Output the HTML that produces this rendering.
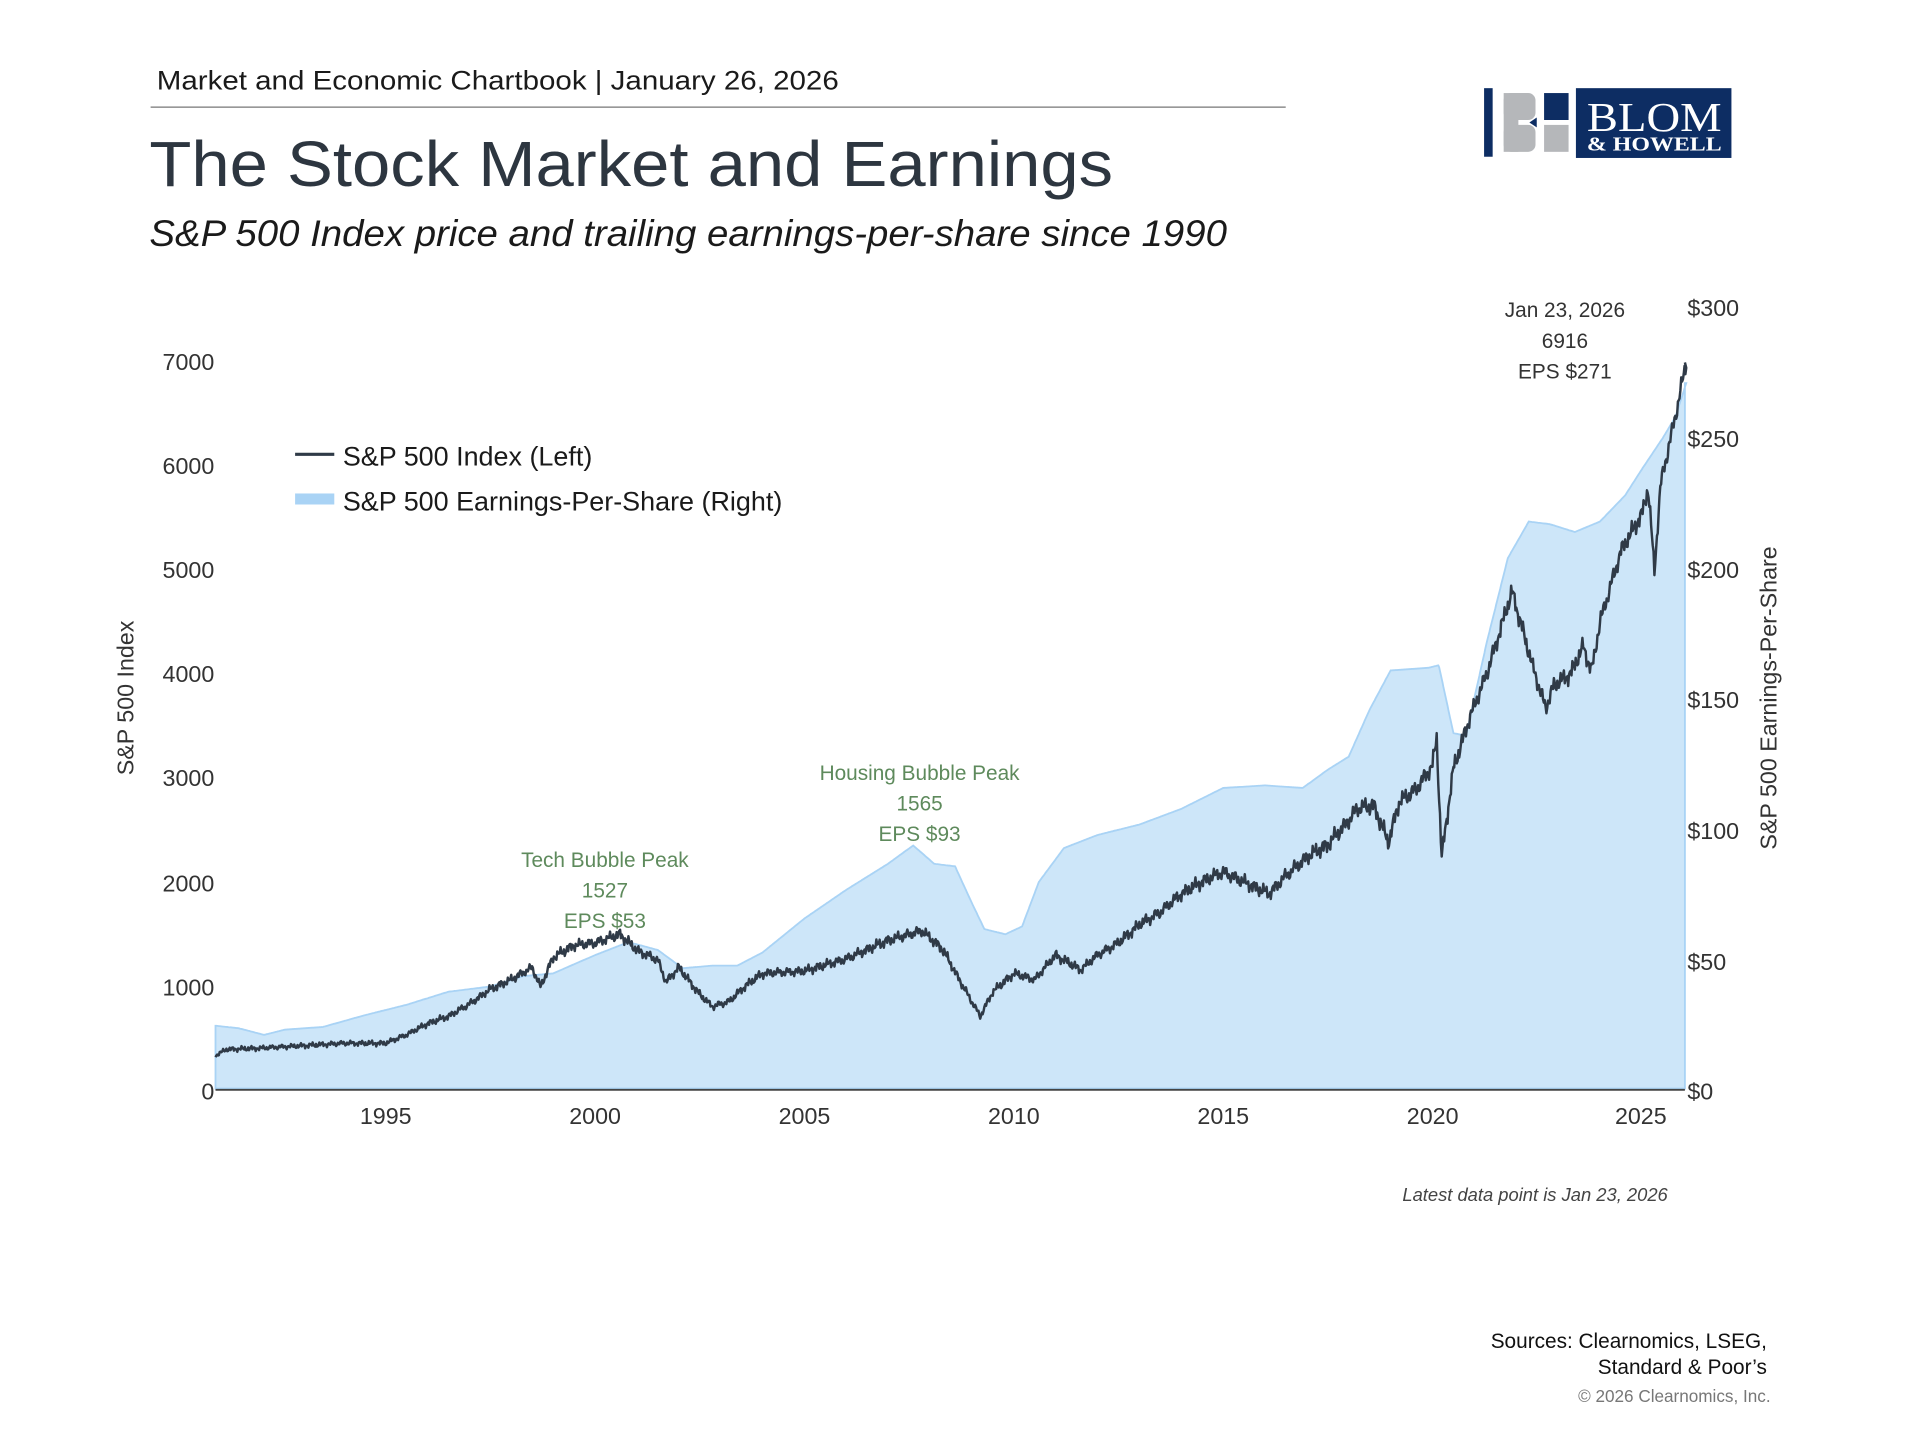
<!DOCTYPE html>
<html><head><meta charset="utf-8"><style>
html,body{margin:0;padding:0;background:#fff;}
svg{display:block;font-family:"Liberation Sans",sans-serif;}
</style></head><body>
<svg id="s" width="1920" height="1440" viewBox="0 0 1568 1176" xmlns="http://www.w3.org/2000/svg">
<rect width="1568" height="1176" fill="#fff"/>
<text x="128" y="73" font-size="22" fill="#1a1a1a" textLength="557" lengthAdjust="spacingAndGlyphs">Market and Economic Chartbook | January 26, 2026</text>
<line x1="123" y1="87.5" x2="1050" y2="87.5" stroke="#777" stroke-width="1"/>
<text x="122" y="152" font-size="52" fill="#2d3640" textLength="787" lengthAdjust="spacingAndGlyphs">The Stock Market and Earnings</text>
<text x="122" y="201" font-size="30" font-style="italic" fill="#1a1a1a" textLength="880" lengthAdjust="spacingAndGlyphs">S&amp;P 500 Index price and trailing earnings-per-share since 1990</text>
<g>
<rect x="1212" y="72" width="7" height="56" fill="#0d2d63"/>
<rect x="1228" y="76" width="26" height="22" rx="6" fill="#b5b7ba"/>
<rect x="1228" y="102" width="26" height="22" rx="6" fill="#b5b7ba"/>
<rect x="1228" y="76" width="12" height="48" fill="#b5b7ba"/>
<polygon points="1255,96 1249,100 1255,104" fill="#0d2d63"/>
<rect x="1261" y="76" width="20" height="22" fill="#0d2d63"/>
<rect x="1261" y="102" width="20" height="22" fill="#b5b7ba"/>
<rect x="1287" y="72" width="127" height="57" fill="#0d2d63"/>
<text x="1296" y="107" font-family="Liberation Serif,serif" font-size="34" fill="#fff" textLength="110" lengthAdjust="spacingAndGlyphs">BLOM</text>
<text x="1296" y="123" font-family="Liberation Serif,serif" font-size="16" font-weight="bold" fill="#fff" textLength="110" lengthAdjust="spacingAndGlyphs">&amp; HOWELL</text>
</g>
<g id="chart"></g>
<g font-size="19" fill="#333" text-anchor="end">
<text x="175" y="898">0</text><text x="175" y="813">1000</text><text x="175" y="728">2000</text>
<text x="175" y="642">3000</text><text x="175" y="557">4000</text><text x="175" y="472">5000</text>
<text x="175" y="387">6000</text><text x="175" y="302">7000</text>
</g>
<g font-size="19" fill="#333">
<text x="1378" y="898">$0</text><text x="1378" y="792">$50</text><text x="1378" y="685">$100</text>
<text x="1378" y="578">$150</text><text x="1378" y="472">$200</text><text x="1378" y="365">$250</text>
<text x="1378" y="258">$300</text>
</g>
<g font-size="19" fill="#333" text-anchor="middle">
<text x="315" y="918">1995</text><text x="486" y="918">2000</text><text x="657" y="918">2005</text>
<text x="828" y="918">2010</text><text x="999" y="918">2015</text><text x="1170" y="918">2020</text>
<text x="1340" y="918">2025</text>
</g>
<text transform="translate(109,570) rotate(-90)" font-size="19" fill="#333" text-anchor="middle">S&amp;P 500 Index</text>
<text transform="translate(1451,570) rotate(-90)" font-size="19" fill="#333" text-anchor="middle">S&amp;P 500 Earnings-Per-Share</text>
<line x1="241" y1="371" x2="273" y2="371" stroke="#2f3a47" stroke-width="2.5"/>
<text x="280" y="380" font-size="22" fill="#1a1a1a">S&amp;P 500 Index (Left)</text>
<rect x="241" y="403" width="32" height="9" fill="#a9d3f5"/>
<text x="280" y="417" font-size="22" fill="#1a1a1a">S&amp;P 500 Earnings-Per-Share (Right)</text>
<g font-size="17" fill="#5e8a5c" text-anchor="middle">
<text x="494" y="708">Tech Bubble Peak</text><text x="494" y="733">1527</text><text x="494" y="758">EPS $53</text>
<text x="751" y="637">Housing Bubble Peak</text><text x="751" y="662">1565</text><text x="751" y="687">EPS $93</text>
</g>
<g font-size="17" fill="#333" text-anchor="middle">
<text x="1278" y="259">Jan 23, 2026</text><text x="1278" y="284">6916</text><text x="1278" y="309">EPS $271</text>
</g>
<text x="1362" y="981" font-size="15" font-style="italic" fill="#444" text-anchor="end">Latest data point is Jan 23, 2026</text>
<g text-anchor="end">
<text x="1443" y="1101" font-size="17" fill="#111">Sources: Clearnomics, LSEG,</text>
<text x="1443" y="1122" font-size="17" fill="#111">Standard &amp; Poor’s</text>
<text x="1446" y="1145" font-size="14" fill="#777">© 2026 Clearnomics, Inc.</text>
</g>
</svg>
<script>
(function(){
function X(yr){return 176+(yr-1990.94)*34.2;}
function YE(v){return 891-v/300*640;}
var eps=[[1990.94,25],[1991.5,24],[1992.1,21.5],[1992.6,23.5],[1993.5,24.5],[1994.5,29],[1995.5,33],[1996.5,38],[1997.5,40],[1998.3,44],[1999,45],[2000,52],[2000.8,57],[2001.5,54],[2002.1,47],[2002.8,48],[2003.4,48],[2004,53],[2005,66],[2006,77],[2007,87],[2007.6,94],[2008.1,87],[2008.6,86],[2009,72],[2009.3,62],[2009.8,60],[2010.2,63],[2010.6,80],[2011.2,93],[2012,98],[2013,102],[2014,108],[2015,116],[2016,117],[2016.9,116],[2017.5,123],[2018,128],[2018.5,146],[2019,161],[2019.9,162],[2020.15,163],[2020.5,137],[2020.8,136],[2021.3,172],[2021.8,204],[2022.3,218],[2022.8,217],[2023.4,214],[2024,218],[2024.6,228],[2025,238],[2025.5,250],[2025.8,258],[2026.06,271]];
var px=[[1990.94,862],[1991.2,857],[1992,856],[1993,854],[1994,852],[1995,852],[1995.5,845],[1996,836],[1996.5,830],[1997,820],[1997.5,808],[1998,800],[1998.5,790],[1998.7,806],[1999,782],[1999.5,772],[2000,770],[2000.6,763],[2001,776],[2001.5,784],[2001.7,802],[2002,790],[2002.5,812],[2002.8,822],[2003.2,818],[2003.6,805],[2004,795],[2005,793],[2006,783],[2007,768],[2007.8,760],[2008.3,775],[2008.7,800],[2009,818],[2009.2,830],[2009.5,810],[2010,795],[2010.5,800],[2011,780],[2011.6,792],[2012,780],[2012.5,770],[2013,755],[2013.5,745],[2014,730],[2014.5,720],[2015,712],[2015.6,722],[2016.1,730],[2016.5,715],[2017,700],[2017.5,690],[2018,670],[2018.2,660],[2018.6,658],[2018.95,688],[2019.2,655],[2019.6,645],[2020,625],[2020.1,603],[2020.22,700],[2020.5,628],[2020.9,585],[2021.3,550],[2021.9,483],[2022.4,545],[2022.7,578],[2022.9,560],[2023.3,550],[2023.6,528],[2023.8,548],[2024,508],[2024.5,450],[2025,420],[2025.15,398],[2025.3,466],[2025.45,395],[2025.8,340],[2026.06,296]];
function interp(arr,t){for(var i=1;i<arr.length;i++){if(t<=arr[i][0]){var a=arr[i-1],b=arr[i];var f=(t-a[0])/(b[0]-a[0]);return a[1]+f*(b[1]-a[1]);}}return arr[arr.length-1][1];}
var d="M176,889",l="";
for(var t=1990.94;t<=2026.06;t+=0.02){d+=" L"+X(t).toFixed(1)+","+YE(interp(eps,t)).toFixed(1);}
d+=" L1376,"+YE(271).toFixed(1)+" L1376,889 Z";
var i=0;
for(var t=1990.94;t<=2026.06;t+=0.02){i++;var y=interp(px,t);var sc=(889-y)/60;var n=(Math.sin(i*1.7)+Math.sin(i*0.53)*0.8+Math.sin(i*3.1)*0.5)*Math.min(4,0.6+sc*0.9);
l+=(l?" L":"M")+X(t).toFixed(1)+","+(y+n).toFixed(1);}
l+=" L1376,296";
var g=document.getElementById("chart");
g.innerHTML='<path d="'+d+'" fill="#cde6f9" stroke="#a9d3f5" stroke-width="1.5"/>'+
'<path d="'+l+'" fill="none" stroke="#2f3a47" stroke-width="2" stroke-linejoin="round"/>'+
'<line x1="176" y1="890" x2="1376" y2="890" stroke="#444" stroke-width="1.5"/>';
})();
</script>
</body></html>
